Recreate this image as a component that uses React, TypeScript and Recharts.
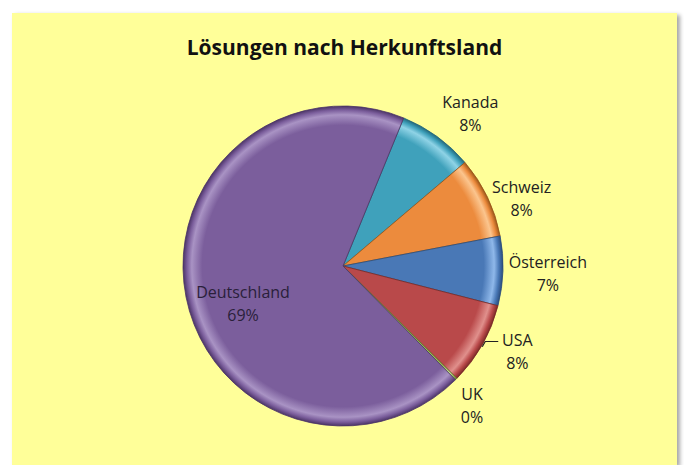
import React from 'react'
import { PieChart, Pie, Cell } from 'recharts'

// Lösungen nach Herkunftsland (Anteile in %, aus dem Bild geschätzt)
const laender = ['Kanada', 'Schweiz', 'Österreich', 'USA', 'UK', 'Deutschland']
const anteile = [7.6, 8.2, 7.0, 8.4, 0.2, 68.6]

const farben = ['#3FA1BB', '#EC8B3D', '#4978B6', '#B9494A', '#9BBB59', '#7B5E9C']
const hell = ['#8FD3E6', '#FBC58E', '#8FB8EA', '#E0908C', '#C8DD9A', '#A993C4']
const dunkel = ['#23677A', '#9A5518', '#2B4C7C', '#7A2826', '#5F7A2E', '#4B3466']

// kleine Verschiebungen der Beschriftungen wie im Original (Excel "optimal")
const labelNudge = [[11, 7], [0, 17], [7, 1], [2, -12], [-11, -1], [0, 0]]

const data = laender.map((name, i) => ({ name, value: anteile[i] }))

const W = 665
const H = 452
const CX = 331
const CY = 253
const R = 160
const FONT = "'Open Sans', 'Noto Sans', sans-serif"

const RAD = Math.PI / 180

function renderLabel(props: any) {
  const { cx, cy, midAngle, outerRadius, percent, name, index } = props
  const txt = `${Math.round(percent * 100)}%`
  if (index === laender.length - 1) {
    // größtes Segment: Beschriftung innen
    const x = cx - 100
    const y = cy + 37
    return (
      <g>
        <text x={x} y={y - 11} textAnchor="middle" dominantBaseline="central" fontSize={16} fill="#2A1F3A" fontFamily={FONT}>{name}</text>
        <text x={x} y={y + 12} textAnchor="middle" dominantBaseline="central" fontSize={16} fill="#2A1F3A" fontFamily={FONT}>{txt}</text>
      </g>
    )
  }
  const cos = Math.cos(-midAngle * RAD)
  const sin = Math.sin(-midAngle * RAD)
  const lr = outerRadius + 38
  const x = cx + lr * cos + labelNudge[index][0]
  const y = cy + lr * sin + labelNudge[index][1]
  const leader = name === 'USA'
  const ex = cx + outerRadius * cos
  const ey = cy + outerRadius * sin
  return (
    <g>
      {leader && <polyline points={`${ex},${ey + 2} ${ex + 3},${y - 10} ${ex + 16},${y - 10}`} fill="none" stroke="#222" strokeWidth={1.2} />}
      <text x={x} y={y - 11} textAnchor="middle" dominantBaseline="central" fontSize={16} fill="#222" fontFamily={FONT}>{name}</text>
      <text x={x} y={y + 12} textAnchor="middle" dominantBaseline="central" fontSize={16} fill="#222" fontFamily={FONT}>{txt}</text>
    </g>
  )
}

export default function App() {
  return (
    <div style={{ position: 'absolute', left: 12, top: 13, width: W, height: H, background: '#FFFF99', boxShadow: '3px 2px 4px rgba(0,0,0,0.35)' }}>
      <div style={{ position: 'absolute', left: 0, top: 20, width: W, textAlign: 'center', fontFamily: FONT, fontWeight: 700, fontSize: 21, color: '#111' }}>
        Lösungen nach Herkunftsland
      </div>
      <PieChart width={W} height={H} margin={{ top: 0, right: 0, bottom: 0, left: 0 }} style={{ position: 'absolute', left: 0, top: 0 }}>
        <defs>
          {farben.map((c, i) => (
            <radialGradient key={i} id={`bevel${i}`} gradientUnits="userSpaceOnUse" cx={CX} cy={CY} r={R}>
              <stop offset="0" stopColor={c} />
              <stop offset="0.88" stopColor={c} />
              <stop offset="0.945" stopColor={hell[i]} />
              <stop offset="0.975" stopColor={c} />
              <stop offset="1" stopColor={dunkel[i]} />
            </radialGradient>
          ))}
        </defs>
        <Pie
          data={data}
          dataKey="value"
          nameKey="name"
          cx={CX}
          cy={CY}
          outerRadius={R}
          startAngle={67.7}
          endAngle={-292.3}
          label={renderLabel}
          labelLine={false}
          isAnimationActive={false}
          stroke="#5a4a6a"
          strokeWidth={0.8}
        >
          {data.map((d, i) => (
            <Cell key={d.name} fill={`url(#bevel${i})`} stroke={dunkel[i]} />
          ))}
        </Pie>
      </PieChart>
    </div>
  )
}
